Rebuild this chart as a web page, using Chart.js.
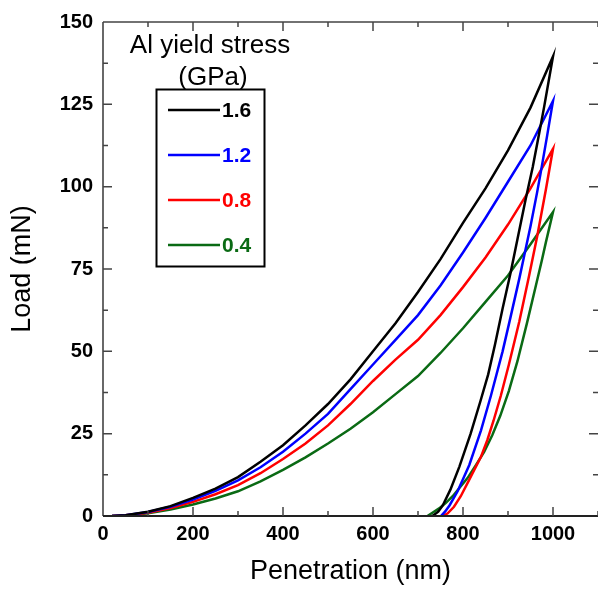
<!DOCTYPE html>
<html>
<head>
<meta charset="utf-8">
<title>Load vs penetration</title>
<script src="https://cdn.jsdelivr.net/npm/chart.js@4/dist/chart.umd.min.js"></script>
<style>
  html, body { margin: 0; padding: 0; background: #fff; }
  canvas { display: block; }
</style>
</head>
<body>
<canvas id="loadChart" width="598" height="590"></canvas>
<script>
// curvas de carga / descarga
const seriesNames = ['1.6', '1.2', '0.8', '0.4'];
const seriesColors = ['#000000', '#0000ff', '#ff0000', '#0a6a14'];

// carga: profundidad comun (nm)
const loadDepth = [20, 50, 100, 150, 200, 250, 300, 350, 400, 450, 500, 550, 600, 650, 700, 750, 800, 850, 900, 950, 1000];
const load16 = [0, 0.2, 1.3, 3.0, 5.5, 8.3, 11.8, 16.5, 21.5, 27.5, 34.0, 41.5, 50.0, 58.5, 68.0, 78.0, 89.0, 99.5, 111.0, 124.0, 139.5];
const load12 = [0, 0.2, 1.2, 2.8, 5.0, 7.6, 10.8, 14.8, 19.5, 25.0, 31.0, 38.5, 46.0, 53.5, 61.0, 70.0, 80.0, 90.5, 101.5, 112.5, 126.0];
const load08 = [0, 0.2, 1.0, 2.4, 4.3, 6.6, 9.4, 13.0, 17.3, 22.0, 27.5, 34.0, 41.0, 47.5, 53.5, 61.0, 69.5, 78.5, 88.5, 99.5, 111.5];
const load04 = [0, 0.1, 0.8, 2.0, 3.5, 5.3, 7.5, 10.5, 14.0, 17.8, 22.0, 26.5, 31.5, 37.0, 42.5, 49.5, 57.0, 65.0, 73.0, 82.5, 92.3];

// descarga: cada curva con su propia profundidad
const unloadDepth16 = [980, 969, 955, 939, 921, 906, 888, 871, 856, 839, 817, 792, 772, 755, 745, 732];
const unload16 = [124, 116, 106, 96, 84, 74, 63, 52, 43, 35, 25, 15, 8, 3.2, 1.3, 0];
const unloadDepth12 = [987, 973, 965, 950, 936, 925, 905, 888, 862, 840, 814, 788, 770, 760, 751];
const unload12 = [115.5, 104.5, 98.5, 88, 79, 72, 60, 50, 36.5, 26, 15.5, 7.5, 3.2, 1.3, 0];
const unloadDepth08 = [984, 965, 947, 925, 902, 884, 868, 854, 840, 825, 810, 795, 780, 766, 755];
const unload08 = [99, 85, 73, 59, 46, 36.5, 29, 23, 18, 14, 10, 6, 2.8, 0.8, 0];
const unloadDepth04 = [984, 975, 962, 942, 921, 902, 883, 865, 847, 829, 810, 792, 777, 762, 747, 732, 721];
const unload04 = [83, 77.5, 70, 58.5, 47, 38, 30.5, 24.5, 19.5, 15.5, 11.5, 8.5, 6, 4, 2.3, 1, 0];

const xTicks = [0, 200, 400, 600, 800, 1000];
const yTicks = [0, 25, 50, 75, 100, 125, 150];

const FONT = '"Liberation Sans", Arial, Helvetica, sans-serif';

function buildCycle(loads, uDepth, unloads) {
    const pts = loadDepth.map((x, i) => ({ x, y: loads[i] }));
    uDepth.forEach((x, i) => pts.push({ x, y: unloads[i] }));
    return pts;
}

const cycles = [
    buildCycle(load16, unloadDepth16, unload16),
    buildCycle(load12, unloadDepth12, unload12),
    buildCycle(load08, unloadDepth08, unload08),
    buildCycle(load04, unloadDepth04, unload04)
];

// marco con ticks hacia adentro en los cuatro lados + leyenda en caja
const framePlugin = {
    id: 'frame',
    afterDraw(chart) {
        const { ctx, chartArea: a, scales: { x, y } } = chart;
        ctx.save();
        ctx.strokeStyle = '#444';
        ctx.lineWidth = 1.6;
        ctx.beginPath();
        ctx.moveTo(a.left, a.top); ctx.lineTo(a.right, a.top);
        ctx.moveTo(a.left, a.top); ctx.lineTo(a.left, a.bottom);
        ctx.stroke();
        ctx.strokeStyle = '#222';
        ctx.lineWidth = 2;
        ctx.beginPath();
        ctx.moveTo(a.left, a.bottom); ctx.lineTo(a.right, a.bottom);
        ctx.stroke();

        ctx.strokeStyle = '#444';
        ctx.lineWidth = 1.5;
        ctx.beginPath();
        for (let v = 100; v <= 1100; v += 100) {
            const px = x.getPixelForValue(v);
            const len = v % 200 === 0 ? 9 : 5;
            ctx.moveTo(px, a.bottom); ctx.lineTo(px, a.bottom - len);
            ctx.moveTo(px, a.top); ctx.lineTo(px, a.top + len);
        }
        for (let v = 12.5; v < 150; v += 12.5) {
            const py = y.getPixelForValue(v);
            const len = v % 25 === 0 ? 9 : 5;
            ctx.moveTo(a.left, py); ctx.lineTo(a.left + len, py);
            ctx.moveTo(a.right, py); ctx.lineTo(a.right - len, py);
        }
        ctx.stroke();

        // leyenda
        ctx.fillStyle = '#000';
        ctx.font = '26px ' + FONT;
        ctx.textAlign = 'center';
        ctx.textBaseline = 'middle';
        ctx.fillText('Al yield stress', 210, 46);
        ctx.fillText('(GPa)', 213, 78);

        ctx.strokeStyle = '#000';
        ctx.lineWidth = 2;
        ctx.strokeRect(156.5, 89.5, 108, 177);

        ctx.font = 'bold 21px ' + FONT;
        ctx.textAlign = 'left';
        chart.data.datasets.forEach((ds, i) => {
            const ly = 110 + i * 45;
            ctx.strokeStyle = ds.borderColor;
            ctx.lineWidth = 2.5;
            ctx.beginPath();
            ctx.moveTo(168, ly); ctx.lineTo(220, ly);
            ctx.stroke();
            ctx.fillStyle = ds.borderColor;
            ctx.fillText(ds.label, 222, ly + 1);
        });
        ctx.restore();
    }
};

const ctx = document.getElementById('loadChart').getContext('2d');
new Chart(ctx, {
    type: 'line',
    data: {
        datasets: cycles.map((pts, i) => ({
            label: seriesNames[i],
            data: pts,
            borderColor: seriesColors[i],
            backgroundColor: seriesColors[i],
            borderWidth: 2.5,
            pointRadius: 0,
            tension: 0,
            fill: false
        }))
    },
    options: {
        responsive: false,
        animation: false,
        devicePixelRatio: 1,
        layout: { padding: { top: 17, right: 0, left: 0, bottom: 0 } },
        plugins: { legend: { display: false }, tooltip: { enabled: false } },
        scales: {
            x: {
                type: 'linear',
                min: 0,
                max: 1100,
                afterBuildTicks: s => { s.ticks = xTicks.map(v => ({ value: v })); },
                afterFit: s => { s.height = 74; },
                grid: { display: false, drawTicks: false },
                border: { display: false },
                ticks: { color: '#000', padding: 6, callback: v => String(v), font: { family: FONT, size: 20, weight: 'bold' } },
                title: { display: true, text: 'Penetration (nm)', color: '#000', padding: { top: 4, bottom: 2 }, font: { family: FONT, size: 27 } }
            },
            y: {
                type: 'linear',
                min: 0,
                max: 150,
                afterBuildTicks: s => { s.ticks = yTicks.map(v => ({ value: v })); },
                afterFit: s => { s.width = 103; },
                grid: { display: false, drawTicks: false },
                border: { display: false },
                ticks: { color: '#000', padding: 10, callback: v => String(v), font: { family: FONT, size: 20, weight: 'bold' } },
                title: { display: true, text: 'Load (mN)', color: '#000', padding: { top: 6, bottom: 4 }, font: { family: FONT, size: 27 } }
            }
        }
    },
    plugins: [framePlugin]
});
</script>
</body>
</html>
